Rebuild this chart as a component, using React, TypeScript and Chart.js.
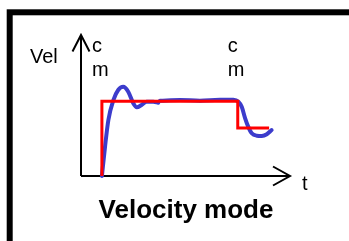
import React, { useEffect, useRef } from "react";
import { Chart, registerables } from "chart.js";

Chart.register(...registerables);

// Command (setpoint) velocity: step profile
const commandTime = [1.0, 1.0, 7.5, 7.5, 9.0];
const commandVel = [0, 5.3, 5.3, 3.4, 3.4];

// Actual velocity response, first stroke
const responseTimeA = [1.0, 1.15, 1.31, 1.55, 1.78, 2.02, 2.26, 2.5, 2.67, 2.9, 3.14, 3.46, 3.7];
const responseVelA = [0, 2.08, 3.97, 5.39, 6.1, 6.33, 5.98, 5.16, 4.87, 5.04, 5.27, 5.27, 5.2];

// Actual velocity response, second stroke
const responseTimeB = [3.78, 4.74, 5.69, 6.65, 7.29, 7.53, 7.69, 7.85, 8.0, 8.17, 8.41, 8.65, 8.89, 9.12];
const responseVelB = [5.34, 5.39, 5.34, 5.41, 5.41, 5.27, 4.91, 4.11, 3.5, 3.03, 2.86, 2.84, 2.96, 3.26];

// Command marker times ("c" / "m" labels)
const markerTimes = [1.0, 7.5];
const markerLines = ["c", "m"];

const axisLabelY = "Vel";
const axisLabelX = "t";
const titleText = "Velocity mode";

const FONT = "'Liberation Sans', Arial, sans-serif";

const toPoints = (xs: number[], ys: number[]) => xs.map((x, i) => ({ x, y: ys[i] }));

const decorPlugin = {
  id: "decor",
  beforeDatasetsDraw(chart: any) {
    const ctx = chart.ctx as CanvasRenderingContext2D;
    const xs = chart.scales.x;
    const ys = chart.scales.y;
    ctx.save();
    // frame
    ctx.strokeStyle = "#000";
    ctx.lineWidth = 6;
    ctx.strokeRect(9.7, 12.3, 400, 300);

    // axes
    const x0 = xs.getPixelForValue(0);
    const y0 = ys.getPixelForValue(0);
    const xTip = xs.getPixelForValue(10);
    const yTip = ys.getPixelForValue(10);
    ctx.lineWidth = 2;
    ctx.lineCap = "butt";
    ctx.beginPath();
    ctx.moveTo(x0, y0);
    ctx.lineTo(x0, yTip);
    ctx.moveTo(x0, y0);
    ctx.lineTo(xTip, y0);
    ctx.stroke();
    // arrowheads
    ctx.lineWidth = 2;
    ctx.lineJoin = "miter";
    ctx.beginPath();
    ctx.moveTo(x0 - 8.5, yTip + 16.5);
    ctx.lineTo(x0, yTip);
    ctx.lineTo(x0 + 8.5, yTip + 16.5);
    ctx.moveTo(xTip - 17, y0 - 9.5);
    ctx.lineTo(xTip, y0);
    ctx.lineTo(xTip - 17, y0 + 9.5);
    ctx.stroke();

    // texts
    ctx.fillStyle = "#000";
    ctx.font = `20px ${FONT}`;
    ctx.textAlign = "left";
    ctx.textBaseline = "alphabetic";
    ctx.fillText(axisLabelY, 30, 63);
    ctx.fillText(axisLabelX, xTip + 12, y0 + 14);
    markerTimes.forEach((t) => {
      const px = xs.getPixelForValue(t) - 10;
      ctx.fillText(markerLines[0], px, 52);
      ctx.fillText(markerLines[1], px, 76);
    });

    ctx.font = `bold 26px ${FONT}`;
    ctx.textAlign = "center";
    ctx.fillText(titleText, 186, 218);
    ctx.restore();
  },
};

export default function App() {
  const ref = useRef<HTMLCanvasElement | null>(null);
  useEffect(() => {
    if (!ref.current) return;
    const chart = new Chart(ref.current, {
      type: "scatter",
      data: {
        datasets: [
          {
            data: toPoints(commandTime, commandVel),
            showLine: true,
            borderColor: "#ff0000",
            borderWidth: 3,
            pointRadius: 0,
            tension: 0,
            borderJoinStyle: "miter",
          },
          {
            data: toPoints(responseTimeA, responseVelA),
            showLine: true,
            borderColor: "#3c3ccc",
            borderWidth: 4,
            pointRadius: 0,
            cubicInterpolationMode: "monotone",
            borderCapStyle: "round",
            borderJoinStyle: "round",
          },
          {
            data: toPoints(responseTimeB, responseVelB),
            showLine: true,
            borderColor: "#3c3ccc",
            borderWidth: 4,
            pointRadius: 0,
            cubicInterpolationMode: "monotone",
            borderCapStyle: "round",
            borderJoinStyle: "round",
          },
        ],
      },
      options: {
        animation: false,
        responsive: false,
        clip: false as any,
        layout: { padding: { left: 81, right: 59, top: 35, bottom: 65 } },
        plugins: { legend: { display: false }, title: { display: false }, tooltip: { enabled: false } },
        scales: {
          x: { type: "linear", min: 0, max: 10, display: false },
          y: { type: "linear", min: 0, max: 10, display: false },
        },
      },
      plugins: [decorPlugin],
    });
    return () => chart.destroy();
  }, []);
  return (
    <div style={{ position: "fixed", left: 0, top: 0, width: 349, height: 241, background: "#fff" }}>
      <canvas ref={ref} width={349} height={241} style={{ display: "block", width: 349, height: 241 }} />
    </div>
  );
}
